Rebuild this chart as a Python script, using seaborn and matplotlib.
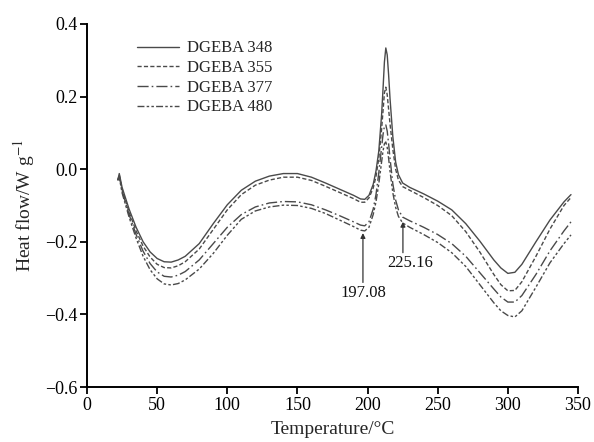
import matplotlib
matplotlib.use("Agg")
import matplotlib.pyplot as plt
import seaborn as sns
import pandas as pd

# ---- data ----
temperature = [22, 23, 25, 30, 35, 40, 45, 50, 55, 60, 65, 70, 80, 90, 100, 110, 120, 130,
               140, 150, 160, 170, 180, 190, 195, 198, 201, 204, 206, 208, 210, 211, 212,
               213, 214, 215, 216, 218, 220, 222, 225, 230, 240, 250, 260, 270, 280, 290,
               295, 300, 305, 310, 320, 330, 340, 345]

dgeba_348 = [-0.030, -0.012, -0.050, -0.110, -0.160, -0.200, -0.228, -0.246, -0.255, -0.256,
             -0.250, -0.240, -0.205, -0.150, -0.098, -0.058, -0.033, -0.019, -0.012, -0.012,
             -0.022, -0.038, -0.055, -0.072, -0.082, -0.083, -0.072, -0.042, -0.005, 0.050,
             0.150, 0.220, 0.295, 0.334, 0.315, 0.260, 0.195, 0.090, 0.020, -0.015, -0.038,
             -0.050, -0.068, -0.088, -0.112, -0.150, -0.198, -0.250, -0.272, -0.287, -0.284,
             -0.262, -0.200, -0.140, -0.090, -0.070]

dgeba_355 = [-0.030, -0.015, -0.055, -0.118, -0.170, -0.212, -0.242, -0.262, -0.271, -0.272,
             -0.266, -0.255, -0.220, -0.166, -0.112, -0.070, -0.044, -0.030, -0.022, -0.022,
             -0.031, -0.047, -0.064, -0.081, -0.091, -0.091, -0.079, -0.052, -0.020, 0.030,
             0.110, 0.160, 0.210, 0.226, 0.205, 0.165, 0.125, 0.055, 0.000, -0.030, -0.048,
             -0.058, -0.078, -0.100, -0.128, -0.172, -0.228, -0.290, -0.318, -0.335, -0.334,
             -0.310, -0.240, -0.165, -0.100, -0.078]

dgeba_377 = [-0.030, -0.020, -0.060, -0.125, -0.180, -0.226, -0.260, -0.283, -0.295, -0.297,
             -0.292, -0.282, -0.250, -0.205, -0.160, -0.125, -0.104, -0.093, -0.089, -0.090,
             -0.098, -0.112, -0.128, -0.145, -0.154, -0.156, -0.145, -0.110, -0.070, -0.010,
             0.060, 0.095, 0.118, 0.122, 0.105, 0.070, 0.030, -0.040, -0.085, -0.112, -0.132,
             -0.142, -0.160, -0.180, -0.205, -0.240, -0.285, -0.330, -0.352, -0.366, -0.366,
             -0.348, -0.290, -0.225, -0.170, -0.145]

dgeba_480 = [-0.030, -0.022, -0.065, -0.132, -0.190, -0.240, -0.277, -0.302, -0.316, -0.319,
             -0.315, -0.305, -0.275, -0.232, -0.182, -0.138, -0.115, -0.104, -0.099, -0.100,
             -0.108, -0.122, -0.140, -0.158, -0.168, -0.170, -0.160, -0.125, -0.090, -0.040,
             0.020, 0.050, 0.070, 0.075, 0.060, 0.030, -0.005, -0.065, -0.105, -0.130, -0.148,
             -0.160, -0.180, -0.202, -0.230, -0.268, -0.318, -0.368, -0.390, -0.403, -0.407,
             -0.390, -0.325, -0.258, -0.205, -0.181]

series_names = ["DGEBA 348", "DGEBA 355", "DGEBA 377", "DGEBA 480"]
series_values = [dgeba_348, dgeba_355, dgeba_377, dgeba_480]

x_ticks = [0, 50, 100, 150, 200, 250, 300, 350]
y_ticks = [-0.6, -0.4, -0.2, 0.0, 0.2, 0.4]

annotations = [("197.08", 196.7, -0.176, -0.312, -0.342),
               ("225.16", 225.2, -0.145, -0.230, -0.258)]

# ---- style ----
sns.set_style("ticks")
plt.rcParams["font.family"] = ["Liberation Serif", "DejaVu Serif"]
plt.rcParams["mathtext.fontset"] = "stix"
plt.rcParams["axes.linewidth"] = 1.4

fig = plt.figure(figsize=(5.94, 4.42), dpi=100)
ax = fig.add_axes([87 / 594, 1 - 387 / 442, 491 / 594, 363 / 442])

styles = ["-", (0, (3, 1.6)), (0, (8, 2.2, 1.2, 2.2)), (0, (5, 1.6, 1.8, 1.6, 1.8, 1.6))]
line_color = "#4a4a4a"

for name, vals, ls in zip(series_names, series_values, styles):
    df = pd.DataFrame({"Temperature": temperature, "Heat flow": vals})
    sns.lineplot(data=df, x="Temperature", y="Heat flow", ax=ax, color=line_color,
                 linestyle=ls, linewidth=1.0, label=name, estimator=None)

for text, x, y_tip, y_tail, y_text in annotations:
    ax.annotate("", xy=(x, y_tip), xytext=(x, y_tail),
                arrowprops=dict(arrowstyle="-|>", color="#333333", lw=0.9,
                                mutation_scale=7, shrinkA=0, shrinkB=0))
    ax.text(x + (0 if text == "197.08" else 5.5), y_text, text, ha="center", va="center",
            fontsize=12, color="#111111")

ax.set_xlim(0, 350)
ax.set_ylim(-0.6, 0.4)
ax.set_xticks(x_ticks)
ax.set_yticks(y_ticks)
ax.set_xticklabels([str(t) for t in x_ticks])
ax.set_yticklabels([("\u2212" if v < 0 else "") + f"{abs(v):.1f}" for v in y_ticks])
ax.tick_params(direction="out", length=5, width=1.3, labelsize=13, colors="black", pad=2)
ax.set_xlabel("Temperature/\u00b0C", fontsize=14, labelpad=5)
ax.set_ylabel("Heat flow/W g$^{-1}$", fontsize=14, labelpad=6)
sns.despine(ax=ax)
for s in ["left", "bottom"]:
    ax.spines[s].set_color("black")

leg = ax.legend(loc="upper left", bbox_to_anchor=(0.102, 0.955), frameon=False,
                fontsize=12, handlelength=2.5, handletextpad=0.5, labelspacing=0.22,
                borderpad=0, borderaxespad=0)

fig.savefig("out.png", dpi=100)
